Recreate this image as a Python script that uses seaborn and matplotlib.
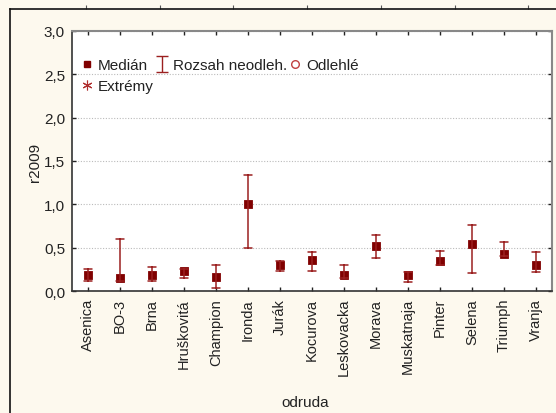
import numpy as np
import pandas as pd
import matplotlib
matplotlib.use("Agg")
import matplotlib.pyplot as plt
from matplotlib.lines import Line2D
import seaborn as sns

categories = ["Asenica", "BO-3", "Brna", "Hruškovitá", "Champion", "Ironda", "Jurák",
              "Kocurova", "Leskovacka", "Morava", "Muskatnaja", "Pinter", "Selena",
              "Triumph", "Vranja"]
median_vals = [0.18, 0.15, 0.18, 0.23, 0.16, 1.00, 0.30, 0.36, 0.18, 0.52, 0.185, 0.35, 0.54, 0.43, 0.30]
range_low = [0.12, 0.12, 0.11, 0.15, 0.04, 0.50, 0.23, 0.23, 0.15, 0.38, 0.10, 0.30, 0.21, 0.40, 0.22]
range_high = [0.25, 0.60, 0.28, 0.25, 0.30, 1.335, 0.35, 0.45, 0.30, 0.65, 0.22, 0.465, 0.76, 0.56, 0.445]
y_ticks = [0.0, 0.5, 1.0, 1.5, 2.0, 2.5, 3.0]

rows = []
for c, lo, md, hi in zip(categories, range_low, median_vals, range_high):
    for v in (lo, md, hi):
        rows.append({"odruda": c, "r2009": v})
df = pd.DataFrame(rows)

sns.set_theme(style="white")
plt.rcParams["font.family"] = ["Liberation Sans", "DejaVu Sans"]

BG = "#fdf9ee"
DARK = "#800000"
BAR = "#9b2020"

fig = plt.figure(figsize=(5.56, 4.14), dpi=100, facecolor=BG)

# outer decorative frame
outer = fig.add_axes([10 / 556, 0, 1 - 10 / 556, 1 - 10 / 414], facecolor=BG, zorder=0)
outer.set_xlim(10, 556)
outer.set_ylim(414, 10)
for s in ["right", "bottom"]:
    outer.spines[s].set_visible(False)
for s in ["left", "top"]:
    outer.spines[s].set_color("#111111")
    outer.spines[s].set_linewidth(1.2)
outer.xaxis.tick_top()
outer.set_xticks(86 + 73.7 * np.arange(7))
outer.set_yticks(15.3 + 20.5 * np.arange(20))
outer.tick_params(axis="both", direction="out", length=3, width=0.8, color="#555555",
                  labelleft=False, labeltop=False, labelbottom=False)

ax = fig.add_axes([72 / 556, 1 - 292 / 414, 480 / 556, 260 / 414], zorder=2)
ax.set_facecolor("white")

sns.pointplot(data=df, x="odruda", y="r2009", order=categories,
              estimator=np.median, errorbar=lambda v: (np.min(v), np.max(v)),
              linestyle="none", marker="s", markersize=4, color=DARK,
              err_kws={"color": BAR, "linewidth": 1.1}, capsize=0.22, ax=ax)

ax.set_xlim(-0.5, len(categories) - 0.5)
ax.set_ylim(0, 3.0)
ax.set_yticks(y_ticks)
ax.set_yticklabels([f"{t:.1f}".replace(".", ",") for t in y_ticks], fontsize=11, color="#222222")
ax.set_xticks(range(len(categories)))
ax.set_xticklabels(categories, rotation=90, fontsize=10.5, color="#222222")
ax.yaxis.grid(True, linestyle=(0, (1, 1.5)), color="#bbbbbb", linewidth=0.8)
ax.xaxis.grid(False)
ax.tick_params(axis="both", direction="in", length=3, width=1, color="#222222",
               top=True, right=True, left=True, bottom=True, pad=5)
for s in ["left", "bottom"]:
    ax.spines[s].set_color("#333333")
    ax.spines[s].set_linewidth(1.2)
for s in ["top", "right"]:
    ax.spines[s].set_color("#888888")
    ax.spines[s].set_linewidth(1.5)

ax.set_xlabel("odruda", fontsize=11, color="#222222")
ax.set_ylabel("r2009", fontsize=11, color="#222222")
ax.xaxis.set_label_coords((305 - 72) / 480, (292 - 396) / 260)
ax.yaxis.set_label_coords((42 - 72) / 480, 0.5)

# legend
h_med = Line2D([], [], marker="s", linestyle="none", color=DARK, markersize=4.5)
h_ext = Line2D([], [], marker=(6, 2, 0), linestyle="none", color="#b03030", markersize=7, markeredgewidth=0.8)
h_rng = ax.errorbar([np.nan], [np.nan], yerr=[1], fmt="none", ecolor=BAR, capsize=4, elinewidth=1)
h_out = Line2D([], [], marker="o", linestyle="none", markerfacecolor="none",
               markeredgecolor="#c04040", markersize=5.5, markeredgewidth=1)
leg = ax.legend([h_med, h_ext, h_rng, h_out], ["Medián", "Extrémy", "Rozsah neodleh.", "Odlehlé"],
                ncol=3, loc="upper left", bbox_to_anchor=(0.0, 0.93), frameon=False,
                fontsize=11, handlelength=0.75, handletextpad=0.35, columnspacing=0.15,
                labelspacing=0.45, borderaxespad=0.2)
for t in leg.get_texts():
    t.set_color("#222222")

fig.savefig("out.png", dpi=100, facecolor=BG)
